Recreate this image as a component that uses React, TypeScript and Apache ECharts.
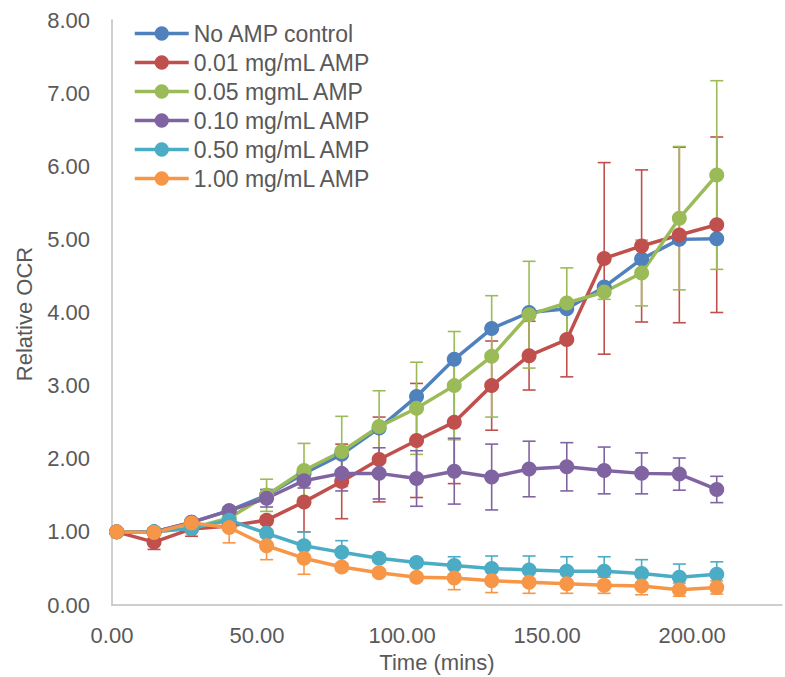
import React, { useEffect, useRef } from "react";
import * as echarts from "echarts";

const times = [1.6, 14.5, 27.4, 40.4, 53.3, 66.2, 79.2, 92.1, 105.0, 118.0, 130.9, 143.8, 156.8, 169.7, 182.6, 195.6, 208.5];

const seriesNames = [
  "No AMP control",
  "0.01 mg/mL AMP",
  "0.05 mgmL AMP",
  "0.10 mg/mL AMP",
  "0.50 mg/mL AMP",
  "1.00 mg/mL AMP",
];
const colors = ["#4F81BD", "#C0504D", "#9BBB59", "#8064A2", "#4BACC6", "#F79646"];

const noAmp = [1.0, 1.0, 1.13, 1.29, 1.5, 1.8, 2.06, 2.42, 2.85, 3.36, 3.78, 4.0, 4.05, 4.35, 4.73, 5.0, 5.01];
const amp001 = [1.0, 0.86, 1.04, 1.08, 1.16, 1.41, 1.69, 1.99, 2.25, 2.5, 3.0, 3.41, 3.63, 4.74, 4.91, 5.06, 5.2];
const amp005 = [1.0, 1.0, 1.05, 1.19, 1.5, 1.84, 2.1, 2.44, 2.69, 3.0, 3.4, 3.97, 4.13, 4.28, 4.54, 5.29, 5.88];
const amp010 = [1.0, 1.0, 1.13, 1.29, 1.46, 1.7, 1.8, 1.8, 1.73, 1.83, 1.75, 1.86, 1.89, 1.84, 1.8, 1.79, 1.58];
const amp050 = [1.0, 1.0, 1.05, 1.16, 0.98, 0.81, 0.72, 0.64, 0.58, 0.54, 0.5, 0.48, 0.46, 0.46, 0.43, 0.38, 0.42];
const amp100 = [1.0, 0.99, 1.12, 1.06, 0.81, 0.64, 0.52, 0.44, 0.38, 0.37, 0.33, 0.31, 0.29, 0.27, 0.26, 0.21, 0.24];

const err001 = [0, 0.1, 0.1, 0.05, 0.05, 0.41, 0.51, 0.58, 0.78, 0.84, 0.61, 0.47, 0.51, 1.31, 1.04, 1.2, 1.2];
const err005 = [0, 0.05, 0.05, 0.05, 0.22, 0.37, 0.48, 0.49, 0.63, 0.74, 0.83, 0.73, 0.48, 0.1, 0.45, 0.98, 1.29];
const err010 = [0, 0.03, 0.05, 0.05, 0.12, 0.1, 0.24, 0.35, 0.38, 0.45, 0.45, 0.38, 0.33, 0.32, 0.28, 0.22, 0.18];
const err050 = [0, 0.03, 0.05, 0.05, 0.05, 0.19, 0.16, 0.05, 0.05, 0.12, 0.17, 0.19, 0.2, 0.2, 0.19, 0.18, 0.17];
const err100 = [0, 0.03, 0.05, 0.21, 0.19, 0.22, 0.05, 0.05, 0.05, 0.16, 0.16, 0.15, 0.13, 0.11, 0.12, 0.09, 0.09];

const allValues = [noAmp, amp001, amp005, amp010, amp050, amp100];
const allErrors: (number[] | null)[] = [null, err001, err005, err010, err050, err100];

const FONT = "'Liberation Sans', Arial, sans-serif";
const TEXT = "#595959";

export default function App() {
  const ref = useRef<HTMLDivElement>(null);
  useEffect(() => {
    if (!ref.current) return;
    const chart = echarts.init(ref.current, undefined, { renderer: "svg" });
    const series: any[] = [];
    allValues.forEach((vals, i) => {
      const errs = allErrors[i];
      if (errs) {
        series.push({
          type: "custom",
          name: seriesNames[i] + " err",
          data: times.map((t, k) => [t, vals[k] - errs[k], vals[k] + errs[k]]),
          renderItem: (params: any, api: any) => {
            const x = api.value(0);
            const lo = api.coord([x, api.value(1)]);
            const hi = api.coord([x, api.value(2)]);
            const cap = 6.5;
            const style = { stroke: colors[i], lineWidth: 1.6 };
            return {
              type: "group",
              children: [
                { type: "line", shape: { x1: lo[0], y1: lo[1], x2: hi[0], y2: hi[1] }, style },
                { type: "line", shape: { x1: lo[0] - cap, y1: lo[1], x2: lo[0] + cap, y2: lo[1] }, style },
                { type: "line", shape: { x1: hi[0] - cap, y1: hi[1], x2: hi[0] + cap, y2: hi[1] }, style },
              ],
            };
          },
          encode: { x: 0, y: [1, 2] },
          silent: true,
        });
      }
      series.push({
        type: "line",
        name: seriesNames[i],
        data: times.map((t, k) => [t, vals[k]]),
        symbol: "circle",
        symbolSize: 15,
        color: colors[i],
        lineStyle: { width: 3.5, color: colors[i] },
        itemStyle: { color: colors[i] },
      });
    });

    chart.setOption({
      animation: false,
      textStyle: { fontFamily: FONT },
      grid: { left: 112, right: 3, top: 20, bottom: 72 },
      legend: {
        data: seriesNames,
        orient: "vertical",
        left: 128,
        top: 17,
        itemWidth: 54,
        itemHeight: 18,
        itemGap: 6,
        lineStyle: { width: 3.5 },
        textStyle: { fontSize: 23, color: TEXT, fontFamily: FONT, lineHeight: 22 },
      },
      xAxis: {
        type: "value",
        min: 0,
        max: 231,
        interval: 50,
        axisLine: { show: true, lineStyle: { color: "#BFBFBF", width: 1.5 } },
        axisTick: { show: false },
        splitLine: { show: false },
        axisLabel: {
          fontSize: 22,
          color: TEXT,
          margin: 19,
          fontFamily: FONT,
          formatter: (v: number) => (v <= 200 ? v.toFixed(2) : ""),
        },
      },
      yAxis: {
        type: "value",
        min: 0,
        max: 8,
        interval: 1,
        axisLine: { show: true, lineStyle: { color: "#BFBFBF", width: 1.5 } },
        axisTick: { show: false },
        splitLine: { show: false },
        axisLabel: {
          fontSize: 22,
          color: TEXT,
          margin: 22,
          fontFamily: FONT,
          formatter: (v: number) => v.toFixed(2),
        },
      },
      graphic: [
        {
          type: "text",
          x: 437,
          y: 662,
          style: {
            text: "Time (mins)",
            fontSize: 22,
            fill: TEXT,
            fontFamily: FONT,
            align: "center",
            verticalAlign: "middle",
          },
        },
        {
          type: "text",
          x: 24,
          y: 314,
          rotation: Math.PI / 2,
          style: {
            text: "Relative OCR",
            fontSize: 22,
            fill: TEXT,
            fontFamily: FONT,
            align: "center",
            verticalAlign: "middle",
          },
        },
      ],
      series,
    });
    return () => chart.dispose();
  }, []);
  return <div ref={ref} style={{ width: 785, height: 677, position: "absolute", left: 0, top: 0 }} />;
}
